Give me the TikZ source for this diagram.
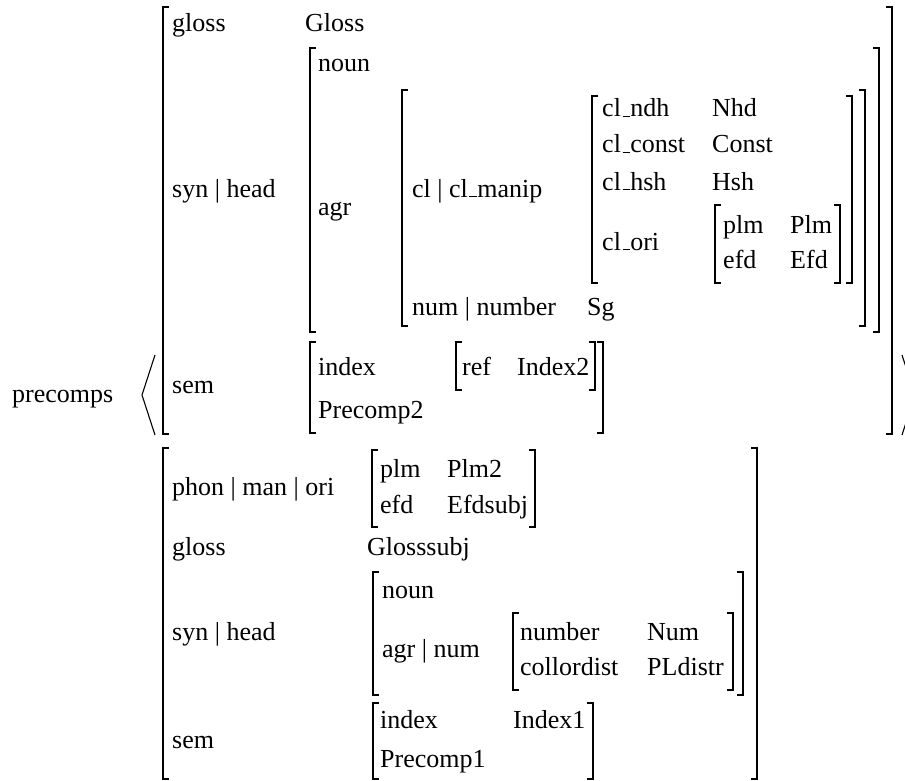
\documentclass[tikz,border=0pt]{standalone}
\usepackage{fontspec}
\setmainfont{Liberation Serif}
\newcommand{\us}{\kern.06em\rule{.3em}{.045em}}
\newcommand{\avmL}[3]{\draw[brk] (#1+6,#2) -- (#1,#2) -- (#1,#3) -- (#1+6,#3);}
\newcommand{\avmR}[3]{\draw[brk] (#1-6,#2) -- (#1,#2) -- (#1,#3) -- (#1-6,#3);}
\begin{document}
\begin{tikzpicture}[x=1pt,y=-1pt,
  brk/.style={line width=1.4pt, line join=miter},
  ang/.style={line width=1.1pt},
  lbl/.style={anchor=base west, inner sep=0pt, font=\fontsize{26}{30}\selectfont}]
\clip (0,0) rectangle (905,781);
\fill[white] (0,0) rectangle (905,781);
% ---------- first AVM ----------
\node[lbl] (precomps) at (12,402) {precomps};
\draw[ang] (155,355) -- (142,395) -- (155,435);
\draw[ang] (902,355) -- (915,395) -- (902,435);
\avmL{163}{7}{434}
\avmR{892}{7}{434}
\node[lbl] (g1) at (172,32) {gloss};
\node[lbl] (g1v) at (305,32) {Gloss};
\node[lbl] (sh1) at (172,197) {syn | head};
\avmL{310}{48}{332}
\avmR{879}{48}{332}
\node[lbl] (noun1) at (318,72) {noun};
\node[lbl] (agr1) at (318,215) {agr};
\avmL{402}{90}{326}
\avmR{865}{90}{326}
\node[lbl] (clm) at (412,197) {cl | cl\us manip};
\node[lbl] (num1) at (412,315) {num | number};
\node[lbl] (sg) at (587,315) {Sg};
\avmL{592}{96}{283}
\avmR{852}{96}{283}
\node[lbl] (ndh) at (602,117) {cl\us ndh};
\node[lbl] (ndhv) at (712,117) {Nhd};
\node[lbl] (cst) at (602,153) {cl\us const};
\node[lbl] (cstv) at (712,153) {Const};
\node[lbl] (hsh) at (602,190) {cl\us hsh};
\node[lbl] (hshv) at (712,190) {Hsh};
\node[lbl] (ori) at (602,250) {cl\us ori};
\avmL{715}{205}{283}
\avmR{840}{205}{283}
\node[lbl] (plm1) at (723,233) {plm};
\node[lbl] (plm1v) at (790,233) {Plm};
\node[lbl] (efd1) at (723,268) {efd};
\node[lbl] (efd1v) at (790,268) {Efd};
\node[lbl] (sem1) at (172,393) {sem};
\avmL{310}{342}{433}
\avmR{603}{342}{433}
\node[lbl] (idx1) at (318,375) {index};
\node[lbl] (pc2) at (318,418) {Precomp2};
\avmL{456}{342}{390}
\avmR{595}{342}{390}
\node[lbl] (ref) at (462,375) {ref};
\node[lbl] (refv) at (517,375) {Index2};
% ---------- second AVM ----------
\avmL{163}{448}{779}
\avmR{757}{448}{779}
\node[lbl] (pmo) at (172,495) {phon | man | ori};
\avmL{372}{450}{527}
\avmR{535}{450}{527}
\node[lbl] (plm2) at (380,477) {plm};
\node[lbl] (plm2v) at (447,477) {Plm2};
\node[lbl] (efd2) at (380,513) {efd};
\node[lbl] (efd2v) at (447,513) {Efdsubj};
\node[lbl] (g2) at (172,555) {gloss};
\node[lbl] (g2v) at (367,555) {Glosssubj};
\node[lbl] (sh2) at (172,640) {syn | head};
\avmL{373}{572}{695}
\avmR{743}{572}{695}
\node[lbl] (noun2) at (382,598) {noun};
\node[lbl] (an2) at (382,657) {agr | num};
\avmL{513}{613}{690}
\avmR{733}{613}{690}
\node[lbl] (nb) at (520,640) {number};
\node[lbl] (nbv) at (647,640) {Num};
\node[lbl] (cd) at (520,675) {collordist};
\node[lbl] (cdv) at (647,675) {PLdistr};
\node[lbl] (sem2) at (172,748) {sem};
\avmL{373}{703}{779}
\avmR{593}{703}{779}
\node[lbl] (idx2) at (380,728) {index};
\node[lbl] (idx2v) at (513,728) {Index1};
\node[lbl] (pc1) at (380,767) {Precomp1};
\end{tikzpicture}
\end{document}
